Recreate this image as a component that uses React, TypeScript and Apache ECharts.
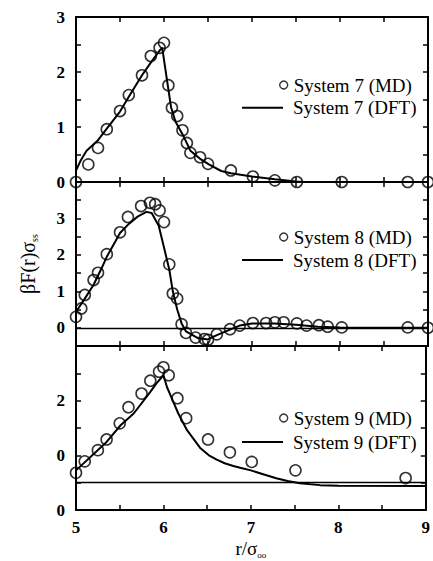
import React, { useEffect, useRef } from "react";
import * as echarts from "echarts";

// ---------- data ----------
const xTicks = [5, 6, 7, 8, 9];

// System 7
const x7md = [5.0, 5.14, 5.25, 5.35, 5.5, 5.6, 5.75, 5.85, 5.95, 6.0, 6.05, 6.09, 6.15, 6.21, 6.26, 6.3, 6.41, 6.5, 6.76, 7.01, 7.26, 7.51, 8.02, 8.77, 9.0];
const y7md = [0, 0.32, 0.62, 0.96, 1.29, 1.58, 1.94, 2.29, 2.44, 2.53, 1.76, 1.35, 1.2, 0.94, 0.71, 0.53, 0.45, 0.33, 0.21, 0.1, 0.03, 0, 0, 0, 0];
const x7dft = [5.0, 5.05, 5.12, 5.25, 5.35, 5.5, 5.6, 5.75, 5.85, 5.95, 5.98, 6.04, 6.08, 6.13, 6.21, 6.3, 6.42, 6.51, 6.65, 6.76, 7.0, 7.26, 7.5, 7.6, 9.0];
const y7dft = [0.21, 0.38, 0.57, 0.76, 0.97, 1.28, 1.55, 1.94, 2.17, 2.39, 2.44, 1.79, 1.36, 1.1, 0.87, 0.57, 0.41, 0.32, 0.2, 0.16, 0.1, 0.05, 0.01, 0, 0];

// System 8
const x8md = [5.0, 5.06, 5.1, 5.2, 5.25, 5.35, 5.5, 5.59, 5.74, 5.84, 5.9, 5.95, 6.0, 6.06, 6.1, 6.15, 6.2, 6.25, 6.36, 6.46, 6.5, 6.6, 6.75, 6.86, 7.01, 7.16, 7.26, 7.36, 7.51, 7.62, 7.76, 7.86, 8.02, 8.77, 9.0];
const y8md = [0.3, 0.53, 0.9, 1.31, 1.51, 2.02, 2.62, 3.04, 3.34, 3.43, 3.39, 3.22, 2.9, 1.74, 0.94, 0.8, 0.1, -0.14, -0.27, -0.31, -0.33, -0.18, -0.04, 0.06, 0.13, 0.13, 0.15, 0.15, 0.12, 0.06, 0.07, 0.03, 0.01, 0.01, 0];
const x8dft = [5.0, 5.1, 5.2, 5.3, 5.35, 5.45, 5.5, 5.6, 5.7, 5.8, 5.86, 5.94, 6.0, 6.06, 6.1, 6.15, 6.2, 6.25, 6.38, 6.5, 6.6, 6.75, 6.86, 7.0, 7.25, 7.5, 7.75, 8.0, 9.0];
const y8dft = [0.44, 0.8, 1.18, 1.68, 1.95, 2.38, 2.6, 2.85, 3.05, 3.18, 3.15, 2.8, 2.2, 1.6, 1.0, 0.5, 0.12, -0.1, -0.28, -0.32, -0.2, -0.05, 0.06, 0.12, 0.12, 0.08, 0.03, 0.01, 0];
const zeroLine8 = 0;

// System 9
const x9md = [5.0, 5.1, 5.25, 5.35, 5.5, 5.6, 5.75, 5.85, 5.95, 6.0, 6.06, 6.16, 6.26, 6.51, 6.76, 7.01, 7.51, 8.77];
const y9md = [-0.64, -0.22, 0.19, 0.58, 1.17, 1.76, 2.26, 2.73, 3.06, 3.22, 2.93, 2.09, 1.36, 0.58, 0.11, -0.24, -0.55, -0.83];
const x9dft = [5.0, 5.35, 5.51, 5.66, 5.85, 5.92, 6.0, 6.04, 6.08, 6.17, 6.27, 6.42, 6.52, 6.61, 6.7, 6.8, 6.9, 7.0, 7.15, 7.29, 7.42, 7.56, 7.79, 8.0, 9.0];
const y9dft = [-0.55, 0.49, 1.1, 1.53, 2.32, 2.63, 2.93, 2.5, 2.2, 1.53, 0.92, 0.27, 0.0, -0.16, -0.29, -0.39, -0.47, -0.55, -0.7, -0.84, -0.94, -1.02, -1.09, -1.11, -1.12];
const baseLine9 = -1;
const panel3Labels: Record<string, string> = { "-2": "0", "0": "0", "2": "2" };

const names = [
  ["System 7 (MD)", "System 7 (DFT)"],
  ["System 8 (MD)", "System 8 (DFT)"],
  ["System 9 (MD)", "System 9 (DFT)"],
];

// ---------- layout ----------
const FONT = "'Liberation Serif', 'Times New Roman', serif";
const LEFT = 76;
const WIDTH = 352;
const grids = [
  { top: 17, height: 165 },
  { top: 182, height: 164 },
  { top: 346, height: 164 },
];
const legendRows = [
  [85, 107.7],
  [237, 260],
  [418, 442],
];

const zip = (xs: number[], ys: number[]) => xs.map((x, i) => [x, ys[i]]);

export default function App() {
  const ref = useRef<HTMLDivElement>(null);
  useEffect(() => {
    if (!ref.current) return;
    const chart = echarts.init(ref.current, null, { renderer: "svg" });

    const axisLine = { show: true, onZero: false, lineStyle: { color: "#000", width: 2 } };
    const axisTick = { show: true, inside: true, length: 5, lineStyle: { color: "#000", width: 1.5 } };

    const xAxis: any[] = [];
    const yAxis: any[] = [];
    const yCfg = [
      { min: 0, max: 3, interval: 0.5, fmt: (v: number) => (Number.isInteger(v) ? String(v) : "") },
      { min: -0.5, max: 4, interval: 0.5, fmt: (v: number) => (Number.isInteger(v) && v >= 0 && v <= 3 ? String(v) : "") },
      { min: -2, max: 4, interval: 1, fmt: (v: number) => panel3Labels[String(v)] ?? "" },
    ];
    grids.forEach((g, i) => {
      const last = i === grids.length - 1;
      xAxis.push({
        type: "value", gridIndex: i, min: 5, max: 9, interval: 0.5, position: "bottom",
        axisLine, axisTick, splitLine: { show: false },
        axisLabel: {
          show: last, margin: 9, color: "#000", fontFamily: FONT, fontSize: 17, fontWeight: "bold",
          formatter: (v: number) => (xTicks.includes(v) ? String(v) : ""),
        },
        ...(last
          ? {
              name: "{a|r/σ}{b|oo}", nameLocation: "middle", nameGap: 27,
              nameTextStyle: {
                rich: {
                  a: { fontFamily: FONT, fontSize: 19, color: "#000", lineHeight: 22 },
                  b: { fontFamily: FONT, fontSize: 9, color: "#000", lineHeight: 12, verticalAlign: "bottom" },
                },
              },
            }
          : {}),
      });
      xAxis.push({
        type: "value", gridIndex: i, min: 5, max: 9, interval: 0.5, position: "top",
        axisLine, axisTick, splitLine: { show: false }, axisLabel: { show: false },
      });
      const c = yCfg[i];
      yAxis.push({
        type: "value", gridIndex: i, min: c.min, max: c.max, interval: c.interval, position: "left",
        axisLine, axisTick, splitLine: { show: false },
        axisLabel: { margin: 11, color: "#000", fontFamily: FONT, fontSize: 17, fontWeight: "bold", formatter: c.fmt },
        ...(i === 1
          ? {
              name: "{a|βF(r)σ}{b|ss}", nameLocation: "middle", nameGap: 37, nameRotate: 90,
              nameTextStyle: {
                rich: {
                  a: { fontFamily: FONT, fontSize: 20, color: "#000", lineHeight: 22 },
                  b: { fontFamily: FONT, fontSize: 10, color: "#000", lineHeight: 12, verticalAlign: "bottom" },
                },
              },
            }
          : {}),
      });
      yAxis.push({
        type: "value", gridIndex: i, min: c.min, max: c.max, interval: c.interval, position: "right",
        axisLine, axisTick, splitLine: { show: false }, axisLabel: { show: false },
      });
    });

    const mdData = [zip(x7md, y7md), zip(x8md, y8md), zip(x9md, y9md)];
    const dftData = [zip(x7dft, y7dft), zip(x8dft, y8dft), zip(x9dft, y9dft)];
    const refLines = [null, zeroLine8, baseLine9];

    const series: any[] = [];
    const legend: any[] = [];
    grids.forEach((g, i) => {
      series.push({
        type: "line", name: names[i][1], xAxisIndex: 2 * i, yAxisIndex: 2 * i,
        data: dftData[i], symbol: "none", showSymbol: false, smooth: false,
        lineStyle: { color: "#000", width: 2 }, itemStyle: { color: "#000" },
        ...(refLines[i] !== null
          ? {
              markLine: {
                silent: true, symbol: "none", label: { show: false },
                lineStyle: { color: "#000", width: 1.3, type: "solid" },
                data: [{ yAxis: refLines[i] }],
              },
            }
          : {}),
      });
      series.push({
        type: "scatter", name: names[i][0], xAxisIndex: 2 * i, yAxisIndex: 2 * i,
        data: mdData[i], symbol: "circle", symbolSize: 11, clip: false,
        itemStyle: { color: "rgba(255,255,255,0)", borderColor: "#000", borderWidth: 1.6 },
      });
      const [yMd, yDft] = legendRows[i];
      legend.push({
        data: [names[i][0]], orient: "vertical", left: 279, top: yMd - 11, padding: 0,
        itemWidth: 8, itemHeight: 8, selectedMode: false, icon: "circle",
        itemStyle: { color: "rgba(255,255,255,0)", borderColor: "#000", borderWidth: 1.4 },
        textStyle: { fontFamily: FONT, fontSize: 19, color: "#000", lineHeight: 22, padding: [0, 0, 0, 1] },
      });
      legend.push({
        data: [names[i][1]], orient: "vertical", left: 242, top: yDft - 11, padding: 0,
        itemWidth: 41, itemHeight: 2, selectedMode: false, icon: "rect",
        itemStyle: { color: "#000", borderWidth: 0 },
        textStyle: { fontFamily: FONT, fontSize: 19, color: "#000", lineHeight: 22, padding: [0, 0, 0, 5] },
      });
    });

    chart.setOption({
      animation: false,
      backgroundColor: "#fff",
      grid: grids.map((g) => ({ left: LEFT, width: WIDTH, top: g.top, height: g.height, containLabel: false })),
      xAxis,
      yAxis,
      legend,
      series,
    });
    return () => chart.dispose();
  }, []);

  return <div ref={ref} style={{ width: 433, height: 561, position: "absolute", left: 0, top: 0 }} />;
}
